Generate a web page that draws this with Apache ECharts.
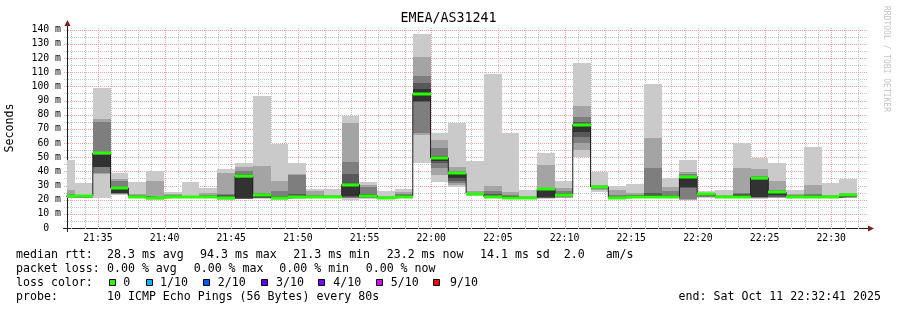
<!DOCTYPE html>
<html><head><meta charset="utf-8">
<script src="https://cdn.jsdelivr.net/npm/echarts@6/dist/echarts.min.js"></script>
<style>html,body{margin:0;padding:0;background:#fff}#c{width:897px;height:310px}</style>
</head><body><div id="c"></div>
<script>
// ---- data ----
const title = 'EMEA/AS31241';
const slotStart = '21:31:57';      // start of first (partial) 80 s slot
const slotSeconds = 80;
const viewStart = '21:32:41';
const viewEnd = '22:32:41';
const tickLabels = ['21:35','21:40','21:45','21:50','21:55','22:00','22:05','22:10','22:15','22:20','22:25','22:30'];
const yTicks = [0,10,20,30,40,50,60,70,80,90,100,110,120,130,140];
const medians = [22.5,22.3,53,28.3,22,21.3,21.7,22,21.7,21,
  36.5,23.6,21.2,22,22,21.7,30.6,22.9,21.2,22.2,
  94.3,49.5,38.6,24.3,22,21.5,21.5,27.8,23.6,73,
  29,21.2,22,22,22,36.3,24.3,22.2,22,35.4,
  25.2,22,22,21.7,23];
// 10 sorted ping RTTs (ms) per slot
const pings = [
  [21,21.5,21.8,22,22.3,22.6,23,24,27,48],
  [21,21.2,21.5,21.7,22,22.3,22.6,22.8,23,32],
  [21,38,38.7,43.2,43.4,51.6,53.5,74.5,77,99],
  [23.5,24,24.3,24.5,24.7,27.6,28.5,33,34.6,39],
  [21,21.3,21.6,21.8,22,22.2,22.5,23,24,32.5],
  [20,20.3,20.6,20.9,21.1,21.4,21.7,22,33.5,40],
  [21,21.2,21.4,21.6,21.8,22,22.5,23,24,25.5],
  [21,21.2,21.4,21.6,21.8,22,22.3,22.6,22.8,32.5],
  [21,21.2,21.4,21.6,21.8,22,22.5,23.5,25,28],
  [20,20.5,21,21.2,21.5,22,23,24,38.7,41.7],
  [20.3,20.5,20.6,20.8,21,35.4,38,40,43,46],
  [20.8,21,21.2,21.5,22,23.5,24,25,44,93],
  [20,20.5,20.8,21,21.3,21.8,22.5,26,33.5,59.6],
  [20.5,21,21.2,21.5,22,22.5,24,37.5,38.4,46],
  [21,21.2,21.5,21.7,22,22.2,22.5,23,26,27.6],
  [21,21.1,21.2,21.4,21.6,21.8,22,22.5,23.5,27.6],
  [20,21,21.5,22,22.4,29.5,38.4,46.7,74,79.4],
  [20.8,21,21.5,22,22.5,23.2,24,29,30.6,32.5],
  [21,21.1,21.2,21.3,21.4,21.6,21.8,22,22.5,26],
  [21,21.2,21.4,21.7,22,22.5,23,24,25.5,27.6],
  [46,66,67,89,89.6,97.8,102.5,107,121,137],
  [32.5,37.7,42.4,46,47.5,49,50.7,56.6,61.8,67],
  [28.8,30.6,31.8,33,35,38,39.5,40.5,43,74],
  [22.4,23,23.3,23.7,24,24.4,24.7,25,26,47],
  [21,21.2,21.5,21.7,22,22.5,24,26,29.7,109],
  [20.8,21,21.2,21.4,21.6,22,22.5,23.5,25.5,67],
  [21,21.1,21.2,21.3,21.4,21.6,21.8,22,22.5,26.6],
  [20.8,21,21.2,21.5,22,27.3,28,28.5,44.5,52.8],
  [21.2,21.5,22,22.5,23,23.8,24.5,26,28.3,33],
  [50,55.4,60,64,68,72.5,75,78.5,86,116.7],
  [25.5,26.5,27.5,28,28.5,29.2,29.5,29.8,30.2,39.6],
  [21,21.1,21.2,21.3,21.5,21.7,22,23,26.6,29.5],
  [21.2,21.5,21.7,22,22.2,22.6,23,23.5,24.5,31],
  [21.2,21.5,21.7,22,22.3,23,25,42.4,63.6,101.8],
  [21,21.2,21.4,21.6,22,22.5,23.5,26,28.8,35.4],
  [19.8,20,20.2,28.5,29,35,36,38,39.6,47.8],
  [21.5,21.7,22,22.5,23,24,24.5,24.8,25,26],
  [21,21.2,21.4,21.6,21.8,22,22.4,22.8,23.5,26.6],
  [21.5,21.7,22,22.2,22.5,23,24.3,25,42.4,60],
  [20.8,21,21.3,21.6,22,34,36,37,41.7,49.5],
  [21,21.3,21.6,22,23,25,25.8,26.6,33.5,46],
  [21,21.2,21.4,21.6,21.8,22,22.5,23,24.3,26.6],
  [21.3,21.5,21.8,22,22.2,22.5,23,24,30.6,57.3],
  [21,21.2,21.4,21.5,21.6,21.8,22,22.5,23,31.8],
  [21.2,21.4,21.7,22,22.5,23,23.2,23.5,24.5,34.6]
];
const statsRtt = ['28.3 ms avg','94.3 ms max','21.3 ms min','23.2 ms now','14.1 ms sd  2.0   am/s'];
const statsLoss = ['0.00 % avg','0.00 % max','0.00 % min','0.00 % now'];
const lossLabels = ['0','1/10','2/10','3/10','4/10','5/10','9/10'];
const lossColors = ['#26ff00','#00b8ff','#0059ff','#5e00ff','#7e00ff','#dd00ff','#ff0000'];
const probeText = '10 ICMP Echo Pings (56 Bytes) every 80s';
const endText = 'end: Sat Oct 11 22:32:41 2025';

// ---- styling ----
const smokeColors = ['#cacaca','#a4a4a4','#7e7e7e','#585858','#323232'];
const MONO = '"DejaVu Sans Mono", monospace';
const GL = 67, GT = 28, GW = 800, GH = 200;

function toSec(s){const p=s.split(':').map(Number);return p[0]*3600+p[1]*60+(p[2]||0);}
function fmt(v){const h=Math.floor(v/3600),m=Math.floor((v%3600)/60);return String(h).padStart(2,'0')+':'+String(m).padStart(2,'0');}

const xmin = toSec(viewStart), xmax = toSec(viewEnd);
const t0 = toSec(slotStart);
const smokeData = pings.map((p,i)=>[t0+i*slotSeconds, t0+(i+1)*slotSeconds].concat(p));
const medianData = medians.map((m,i)=>[t0+i*slotSeconds, t0+(i+1)*slotSeconds, m]);
const stepData = medians.map((m,i)=>[t0+i*slotSeconds, m]).concat([[t0+medians.length*slotSeconds, medians[medians.length-1]]]);

const gridData = [];
for (let s=Math.ceil(xmin/60)*60; s<=xmax; s+=60) gridData.push([0, s, s%300===0?1:0]);
for (let v=5; v<=140; v+=5) gridData.push([1, v, v%10===0?1:0]);

function renderSmoke(params, api){
  const cs = params.coordSys;
  const s = api.value(0), e = api.value(1);
  const children = [];
  for (let j=0;j<5;j++){
    const lo = api.value(2+j), hi = api.value(11-j);
    const a = api.coord([s, hi]), b = api.coord([e, lo]);
    const x0 = Math.max(Math.round(a[0]), cs.x), x1 = Math.round(b[0]);
    const y0 = Math.round(a[1]), y1 = Math.round(b[1]);
    children.push({type:'rect', shape:{x:x0,y:y0,width:Math.max(x1-x0,0),height:Math.max(y1-y0,1)}, style:{fill:smokeColors[j]}});
  }
  return {type:'group', children};
}
function renderMedian(params, api){
  const cs = params.coordSys;
  const a = api.coord([api.value(0), api.value(2)]), b = api.coord([api.value(1), api.value(2)]);
  const x0 = Math.max(Math.round(a[0]), cs.x), x1 = Math.round(b[0]);
  const y = Math.round(a[1]);
  return {type:'rect', shape:{x:x0, y:y-1.5, width:x1-x0, height:3}, style:{fill:lossColors[0]}};
}
function renderGrid(params, api){
  const cs = params.coordSys;
  const kind = api.value(0), v = api.value(1), major = api.value(2);
  let shape;
  if (kind===0){
    const x = Math.round(api.coord([v, 0])[0]) + 0.5;
    shape = {x1:x, y1:cs.y, x2:x, y2:cs.y+cs.height+2};
  } else {
    const y = Math.round(api.coord([xmin, v])[1]) + 0.5;
    shape = {x1:cs.x-3, y1:y, x2:cs.x+cs.width, y2:y};
  }
  return {type:'line', shape, style:{stroke: major ? '#efa3a3' : '#c6c6c6', lineWidth:1, lineDash:[1,1]}};
}

const txt = (text, x, y, opts) => ({type:'text', silent:true, style:Object.assign({text, x, y, fill:'#000', font:'11.6px '+MONO, align:'left', verticalAlign:'middle'}, opts||{})});
const graphics = [];
const rowY = [254.5, 268.5, 282.5, 296.5];
graphics.push(txt('median rtt:', 16, rowY[0]));
[107,200,293.3,386.7,480].forEach((x,i)=>graphics.push(txt(statsRtt[i], x, rowY[0])));
graphics.push(txt('packet loss:', 16, rowY[1]));
[107,193.7,279.3,365.7].forEach((x,i)=>graphics.push(txt(statsLoss[i], x, rowY[1])));
graphics.push(txt('loss color:', 16, rowY[2]));
const boxX = [109,145.7,203,261,318.3,375.7,433.3];
const labX = [123.3,160,217.7,276,333.3,390.7,450];
lossLabels.forEach((l,i)=>{
  graphics.push({type:'rect', silent:true, shape:{x:Math.round(boxX[i])+0.5, y:279.5, width:6, height:6}, style:{fill:lossColors[i], stroke:'#000', lineWidth:1}});
  graphics.push(txt(l, labX[i], rowY[2]));
});
graphics.push(txt('probe:', 16, rowY[3]));
graphics.push(txt(probeText, 107, rowY[3]));
graphics.push(txt(endText, 881, rowY[3], {align:'right'}));
graphics.push({type:'text', silent:true, x:886, y:59, rotation:-Math.PI/2, style:{text:'RRDTOOL / TOBI OETIKER', x:0, y:0, fill:'#c4c4c4', font:'8px '+MONO, align:'center', verticalAlign:'middle'}});
graphics.push({type:'line', silent:true, shape:{x1:GL+0.5, y1:GT-3, x2:GL+0.5, y2:GT}, style:{stroke:'#1f1f1f', lineWidth:1}});
graphics.push({type:'line', silent:true, shape:{x1:GL+0.5, y1:GT+GH, x2:GL+0.5, y2:GT+GH+4}, style:{stroke:'#1f1f1f', lineWidth:1}});
graphics.push({type:'line', silent:true, shape:{x1:GL-4, y1:GT+GH+0.5, x2:GL, y2:GT+GH+0.5}, style:{stroke:'#1f1f1f', lineWidth:1}});
graphics.push({type:'line', silent:true, shape:{x1:GL+GW, y1:GT+GH+0.5, x2:GL+GW+2, y2:GT+GH+0.5}, style:{stroke:'#1f1f1f', lineWidth:1}});
graphics.push({type:'polygon', silent:true, shape:{points:[[GL-2.5,GT-2],[GL+3.5,GT-2],[GL+0.5,GT-8]]}, style:{fill:'#801f1f'}});
graphics.push({type:'polygon', silent:true, shape:{points:[[GL+GW+1,GT+GH-2.5],[GL+GW+1,GT+GH+3.5],[GL+GW+7,GT+GH+0.5]]}, style:{fill:'#801f1f'}});

const chart = echarts.init(document.getElementById('c'), null, {renderer:'canvas'});
chart.setOption({
  animation:false,
  backgroundColor:'#ffffff',
  title:{text:title, left:'center', top:12, padding:0, textStyle:{fontFamily:MONO, fontSize:13.3, fontWeight:'normal', color:'#000'}},
  grid:{left:GL, top:GT, width:GW, height:GH, containLabel:false, outerBoundsMode:'none'},
  xAxis:{type:'value', min:xmin, max:xmax,
    splitLine:{show:false},
    axisLine:{show:true, onZero:false, lineStyle:{color:'#1f1f1f', width:1}},
    axisTick:{show:false},
    axisLabel:{customValues: tickLabels.map(toSec), formatter: v => fmt(v), fontFamily:MONO, fontSize:9.8, color:'#000', margin:5}
  },
  yAxis:{type:'value', min:0, max:141.2,
    splitLine:{show:false},
    axisLine:{show:true, lineStyle:{color:'#1f1f1f', width:1}},
    axisTick:{show:false},
    axisLabel:{customValues: yTicks, formatter: v => v===0 ? '0  ' : v+' m', fontFamily:MONO, fontSize:9.8, color:'#000', margin:6},
    name:'Seconds', nameLocation:'middle', nameGap:51, nameRotate:90,
    nameTextStyle:{fontFamily:MONO, fontSize:11.6, color:'#000'}
  },
  series:[
    {type:'custom', name:'grid', renderItem:renderGrid, data:gridData, clip:false, z:1, silent:true},
    {type:'custom', name:'smoke', renderItem:renderSmoke, data:smokeData, clip:true, z:2, silent:true},
    {type:'line', name:'median', data:stepData, step:'end', showSymbol:false, clip:true, z:3, silent:true,
      lineStyle:{color:'#202020', width:1}},
    {type:'custom', name:'median loss', renderItem:renderMedian, data:medianData, clip:true, z:4, silent:true}
  ],
  graphic: graphics
});
</script>
</body></html>
